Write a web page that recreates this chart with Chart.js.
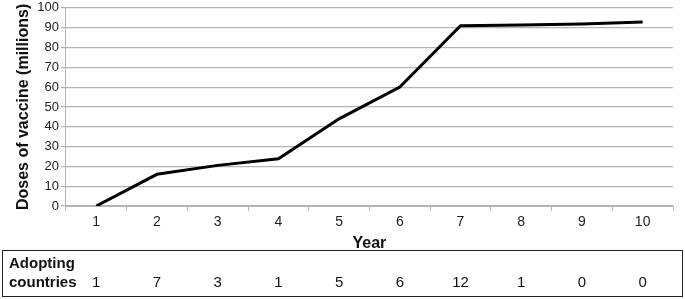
<!DOCTYPE html>
<html>
<head>
<meta charset="utf-8">
<script src="https://cdn.jsdelivr.net/npm/chart.js@4"></script>
<style>
  html, body { margin: 0; padding: 0; background: #fff; }
  #wrap { width: 685px; height: 299px; position: relative; }
</style>
</head>
<body>
<div id="wrap"><canvas id="chart" width="685" height="299"></canvas></div>
<script>
// data
const years = ["1", "2", "3", "4", "5", "6", "7", "8", "9", "10"];
const doses = [0, 16, 20.5, 23.8, 44, 60, 91, 91.4, 91.9, 92.9];
const adopting = [1, 7, 3, 1, 5, 6, 12, 1, 0, 0];
const yTicks = [0, 10, 20, 30, 40, 50, 60, 70, 80, 90, 100];

const fontFam = "'Liberation Sans', Arial, Helvetica, sans-serif";
const gridGrey = "#b4b4b4";

// table under the chart, columns line up with the x scale
const tablePlugin = {
  id: "adoptTable",
  afterDraw(chart) {
    const ctx = chart.ctx;
    const x = chart.scales.x;
    ctx.save();
    ctx.strokeStyle = "#222";
    ctx.lineWidth = 1;
    ctx.strokeRect(2.5, 250.5, 680, 46);
    ctx.fillStyle = "#111";
    ctx.textBaseline = "middle";
    ctx.textAlign = "left";
    ctx.font = "bold 15px " + fontFam;
    ctx.fillText("Adopting", 9, 264);
    ctx.fillText("countries", 9, 283);
    ctx.font = "15px " + fontFam;
    ctx.textAlign = "center";
    adopting.forEach((v, i) => {
      ctx.fillText(String(v), x.getPixelForValue(i), 283);
    });
    ctx.restore();
  }
};

new Chart(document.getElementById("chart"), {
  type: "line",
  data: {
    labels: years,
    datasets: [{
      data: doses,
      borderColor: "#000",
      borderWidth: 3,
      pointRadius: 0,
      tension: 0,
      fill: false
    }]
  },
  plugins: [tablePlugin],
  options: {
    responsive: false,
    animation: false,
    devicePixelRatio: 1,
    layout: { padding: { left: 14, right: 12, top: 0, bottom: 46 } },
    plugins: {
      legend: { display: false },
      tooltip: { enabled: false }
    },
    scales: {
      x: {
        offset: true,
        grid: {
          offset: true,
          drawOnChartArea: false,
          drawTicks: true,
          tickLength: 5,
          color: gridGrey
        },
        border: { color: gridGrey },
        ticks: {
          color: "#222",
          font: { family: fontFam, size: 14 },
          padding: 3,
          maxRotation: 0
        },
        title: {
          display: true,
          text: "Year",
          color: "#111",
          font: { family: fontFam, size: 16, weight: "bold" },
          padding: { top: 0, bottom: 0 }
        }
      },
      y: {
        min: 0,
        max: 100,
        afterBuildTicks(axis) {
          axis.ticks = yTicks.map(v => ({ value: v }));
        },
        grid: {
          color: gridGrey,
          lineWidth: 1.2,
          tickLength: 5
        },
        border: { color: gridGrey },
        ticks: {
          color: "#222",
          font: { family: fontFam, size: 13, lineHeight: 0.9 },
          padding: 2,
          autoSkip: false
        },
        title: {
          display: true,
          text: "Doses of vaccine (millions)",
          color: "#111",
          font: { family: fontFam, size: 16, weight: "bold" },
          padding: { top: 0, bottom: 2 }
        }
      }
    }
  }
});
</script>
</body>
</html>
